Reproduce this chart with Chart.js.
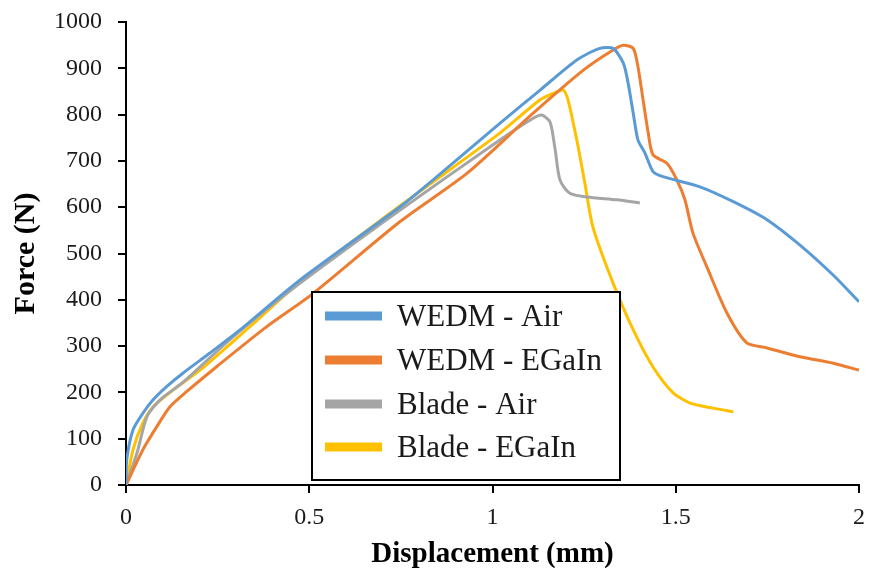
<!DOCTYPE html>
<html><head><meta charset="utf-8">
<script src="https://cdn.jsdelivr.net/npm/chart.js@4.4.0/dist/chart.umd.min.js"></script>
<style>html,body{margin:0;padding:0;background:#fff}#wrap{width:869px;height:576px}</style>
</head><body><div id="wrap"><canvas id="c" width="869" height="576"></canvas></div>
<script>
const seriesNames = ["WEDM - Air", "WEDM - EGaIn", "Blade - Air", "Blade - EGaIn"];
const seriesColors = ["#5B9BD5", "#ED7D31", "#A5A5A5", "#FFC000"];
const xTicks = [0, 0.5, 1, 1.5, 2];
const yTicks = [0,100,200,300,400,500,600,700,800,900,1000];

const wedmAirX = [0,0.002,0.019,0.046,0.074,0.11,0.156,0.229,0.311,0.475,0.748,0.838,1.02,1.13,1.23,1.293,1.329,1.357,1.37,1.384,1.397,1.416,1.438,1.465,1.566,1.657,1.749,1.839,1.93,2.0];
const wedmAirY = [0,54,119,155,184,212,242,285,335,443,601,659,781,853,918,943,943,911,868,803,745,717,677,666,644,612,573,518,453,396];

const wedmEgX = [0,0.046,0.084,0.12,0.166,0.248,0.384,0.511,0.748,0.93,1.111,1.248,1.33,1.357,1.384,1.397,1.411,1.425,1.438,1.476,1.503,1.525,1.547,1.585,1.64,1.694,1.749,1.839,1.93,2.0];
const wedmEgY = [0,76,126,169,202,256,342,414,569,673,803,896,940,950,943,903,831,760,713,695,659,616,544,471,371,307,296,277,263,248];

const bladeAirX = [0,0.03,0.057,0.093,0.156,0.292,0.475,0.748,1.02,1.111,1.134,1.157,1.171,1.184,1.211,1.258,1.34,1.402];
const bladeAirY = [0,69,147,184,222,320,436,594,745,792,799,784,724,659,630,622,616,609];

const bladeEgX = [0,0.019,0.046,0.074,0.128,0.202,0.338,0.475,0.748,1.02,1.13,1.175,1.193,1.206,1.23,1.252,1.274,1.329,1.384,1.438,1.493,1.539,1.602,1.657];
const bladeEgY = [0,76,134,169,205,248,342,439,603,760,832,849,853,832,745,652,557,436,335,255,199,177,166,158];

const xs = [wedmAirX, wedmEgX, bladeAirX, bladeEgX];
const ys = [wedmAirY, wedmEgY, bladeAirY, bladeEgY];

const datasets = seriesNames.map((n,i)=>({
  label:n,
  data: xs[i].map((x,j)=>({x:x,y:ys[i][j]})),
  borderColor: seriesColors[i],
  backgroundColor: seriesColors[i],
  borderWidth: 3,
  pointRadius: 0,
  showLine: true,
  tension: 0.25,
  fill:false
}));

const legendPlugin = {
  id:'boxLegend',
  afterDraw(chart){
    const ctx = chart.ctx;
    ctx.save();
    const bx = 312, by = 292, bw = 308, bh = 188;
    ctx.fillStyle = '#fff';
    ctx.fillRect(bx,by,bw,bh);
    ctx.strokeStyle = '#000';
    ctx.lineWidth = 2;
    ctx.strokeRect(bx,by,bw,bh);
    const rowY = [316, 360, 404, 447];
    ctx.font = '31px "Liberation Serif", "Times New Roman", serif';
    ctx.textBaseline = 'middle';
    chart.data.datasets.forEach((d,i)=>{
      ctx.strokeStyle = d.borderColor;
      ctx.lineWidth = 9;
      ctx.beginPath();
      ctx.moveTo(325, rowY[i]);
      ctx.lineTo(382, rowY[i]);
      ctx.stroke();
      ctx.fillStyle = '#1a1a1a';
      ctx.fillText(d.label, 397, rowY[i]+2);
    });
    ctx.restore();
  }
};

new Chart(document.getElementById('c'), {
  type:'scatter',
  data:{datasets},
  options:{
    responsive:false,
    animation:false,
    layout:{padding:{top:0,right:0,left:0,bottom:0}},
    plugins:{legend:{display:false}, tooltip:{enabled:false}},
    scales:{
      x:{
        type:'linear', min:0, max:2,
        afterBuildTicks: s => { s.ticks = xTicks.map(v=>({value:v})); },
        afterFit: s => { s.height = 91; s.paddingRight = 10; s.paddingLeft = 0; },
        grid:{drawOnChartArea:false, drawTicks:true, tickLength:8, color:'#000', lineWidth:2},
        border:{color:'#000', width:2},
        ticks:{color:'#1a1a1a', font:{family:'"Liberation Serif", serif', size:24}, padding:10, maxRotation:0,
          callback: v => String(v)},
        title:{display:true, text:'Displacement (mm)', color:'#000', font:{family:'"Liberation Serif", serif', size:29, weight:'bold'}, padding:{top:0,bottom:4}}
      },
      y:{
        type:'linear', min:0, max:1000,
        afterBuildTicks: s => { s.ticks = yTicks.map(v=>({value:v})); },
        afterFit: s => { s.width = 126; s.paddingTop = 22; s.paddingBottom = 0; },
        grid:{drawOnChartArea:false, drawTicks:true, tickLength:8, color:'#000', lineWidth:2},
        border:{color:'#000', width:2},
        ticks:{color:'#1a1a1a', font:{family:'"Liberation Serif", serif', size:24}, padding:16,
          callback: v => String(v)},
        title:{display:true, text:'Force (N)', color:'#000', font:{family:'"Liberation Serif", serif', size:30, weight:'bold'}, padding:{top:8,bottom:0}}
      }
    }
  },
  plugins:[legendPlugin]
});
</script></body></html>
